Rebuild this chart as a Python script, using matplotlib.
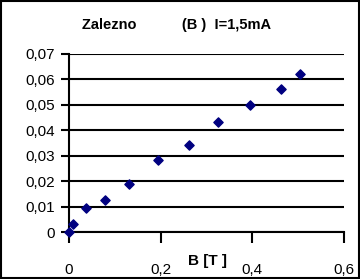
import matplotlib
matplotlib.use("Agg")
from matplotlib import pyplot as plt
from matplotlib.patches import Rectangle

# readings
b_field = [0.0, 0.009, 0.037, 0.079, 0.131, 0.194, 0.262, 0.325, 0.395, 0.463, 0.504]
voltage = [0.0, 0.0031, 0.0094, 0.0126, 0.0189, 0.0283, 0.0342, 0.0433, 0.0499, 0.0562, 0.0621]

x_ticks = [0, 0.2, 0.4, 0.6]
x_tick_labels = ["0", "0,2", "0,4", "0,6"]
y_ticks = [0, 0.01, 0.02, 0.03, 0.04, 0.05, 0.06, 0.07]
y_tick_labels = ["0", "0,01", "0,02", "0,03", "0,04", "0,05", "0,06", "0,07"]


def main() -> None:
    plt.rcParams["font.family"] = ["Liberation Sans", "DejaVu Sans"]
    fig = plt.figure(figsize=(3.6, 2.79), dpi=100)
    ax = fig.add_axes([69 / 360, 1 - 232 / 279, 275 / 360, 178 / 279])

    ax.scatter(b_field, voltage, marker="D", s=22, color="#000080", zorder=3, clip_on=False)

    ax.set_xlim(0, 0.6)
    ax.set_ylim(0, 0.07)
    ax.set_xticks(x_ticks)
    ax.set_xticklabels(x_tick_labels, fontsize=11)
    ax.set_yticks(y_ticks)
    ax.set_yticklabels(y_tick_labels, fontsize=11)
    ax.tick_params(axis="x", direction="out", length=8, width=1.5, pad=14)
    ax.tick_params(axis="y", direction="out", length=6, width=1.5, pad=4)

    ax.grid(axis="y", color="black", linewidth=1.5)
    ax.set_axisbelow(True)
    for side in ("top", "right"):
        ax.spines[side].set_visible(False)
    for side in ("left", "bottom"):
        ax.spines[side].set_linewidth(1.5)

    fig.text(177 / 360, 1 - 25 / 279, "Zalezno           (B )  I=1,5mA",
             ha="center", va="center", fontsize=10.5, fontweight="bold")
    fig.text(208 / 360, 1 - 261 / 279, "B [T ]",
             ha="center", va="center", fontsize=11, fontweight="bold")

    fig.patches.append(Rectangle((0.003, 0.004), 0.994, 0.992, transform=fig.transFigure,
                                 fill=False, edgecolor="black", linewidth=1.5))
    fig.savefig("out.png", dpi=100)


if __name__ == "__main__":
    main()
